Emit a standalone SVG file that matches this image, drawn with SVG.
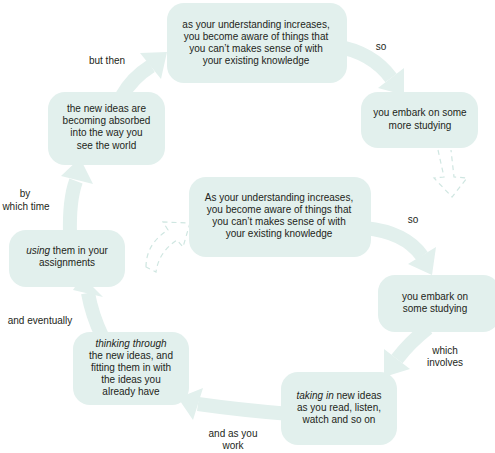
<svg xmlns="http://www.w3.org/2000/svg" width="495" height="453" viewBox="0 0 495 453">
<style>
.node{fill:#e2f0ed}
.shaft{fill:none;stroke:#e2f0ed;stroke-width:14}
.head{fill:#e2f0ed}
.dash{fill:none;stroke:#cfe6e1;stroke-width:1.2;stroke-dasharray:5 4}
text{font-family:"Liberation Sans",Arial,sans-serif;font-size:10px;fill:#231f20;text-anchor:middle}
.i{font-style:italic}
</style>
<rect width="495" height="453" fill="#ffffff"/>
<g id="connectors">
<path class="shaft" d="M122 96 Q132 78 151 66"/>
<polygon class="head" points="140,53 161,79 167,52"/>
<path class="shaft" d="M335 46 Q372 52 391 78"/>
<polygon class="head" points="378,88 404,68 404,95"/>
<path class="shaft" d="M365 228 Q405 232 422 256"/>
<polygon class="head" points="408,264 436,247 432,275"/>
<path class="shaft" d="M428 328 Q410 342 397 359"/>
<polygon class="head" points="384,349 410,369 384,377"/>
<path class="shaft" d="M290 414 Q240 410 198 404"/>
<polygon class="head" points="203,388 193,420 178,398"/>
<path class="shaft" d="M102 336 Q92 315 88 293"/>
<polygon class="head" points="73,290 103,297 82,276"/>
<path class="shaft" d="M70 235 Q69 200 76 181"/>
<polygon class="head" points="61,176 93,184 80,158"/>
<path class="dash" d="M438 150 L444 177 L434 178 L452 197 L467 178 L454 177 L451 150"/>
<path class="dash" d="M146 267 C146 250 155 238 168 230 L163 222 L190 223 L183 247 L177 240 C165 248 158 258 156 272 Z"/>
</g>
<g id="n1"><rect class="node" x="167" y="3" width="180" height="80" rx="17"/>
<text x="256" y="28">as your understanding increases,</text>
<text x="256" y="40">you become aware of things that</text>
<text x="256" y="52">you can’t makes sense of with</text>
<text x="256" y="64">your existing knowledge</text></g>
<g id="n2"><rect class="node" x="361" y="92" width="117" height="56" rx="17"/>
<text x="420" y="116">you embark on some</text>
<text x="420" y="129">more studying</text></g>
<g id="n3"><rect class="node" x="48" y="92" width="117" height="73" rx="17"/>
<text x="106.5" y="112">the new ideas are</text>
<text x="106.5" y="124">becoming absorbed</text>
<text x="106.5" y="136">into the way you</text>
<text x="106.5" y="149">see the world</text></g>
<g id="n4"><rect class="node" x="189" y="177" width="182" height="80" rx="17"/>
<text x="279" y="201">As your understanding increases,</text>
<text x="279" y="213">you become aware of things that</text>
<text x="279" y="225">you can’t makes sense of with</text>
<text x="279" y="237">your existing knowledge</text></g>
<g id="n5"><rect class="node" x="378" y="275" width="122" height="57" rx="17"/>
<text x="435" y="300">you embark on</text>
<text x="435" y="312">some studying</text></g>
<g id="n6"><rect class="node" x="281" y="372" width="116" height="73" rx="17"/>
<text x="339" y="399"><tspan class="i">taking in</tspan> new ideas</text>
<text x="339" y="411">as you read, listen,</text>
<text x="339" y="423">watch and so on</text></g>
<g id="n7"><rect class="node" x="73" y="332" width="116" height="73" rx="17"/>
<text x="131" y="347" class="i">thinking through</text>
<text x="131" y="359">the new ideas, and</text>
<text x="131" y="371">fitting them in with</text>
<text x="131" y="383">the ideas you</text>
<text x="131" y="395">already have</text></g>
<g id="n8"><rect class="node" x="9" y="230" width="116" height="57" rx="17"/>
<text x="67" y="254"><tspan class="i">using</tspan> them in your</text>
<text x="67" y="266">assignments</text></g>
<g id="labels">
<text x="107" y="64">but then</text>
<text x="381" y="50">so</text>
<text x="25" y="197">by</text>
<text x="26" y="210">which time</text>
<text x="413" y="223">so</text>
<text x="40" y="324">and eventually</text>
<text x="445" y="354">which</text>
<text x="445" y="366">involves</text>
<text x="233" y="437">and as you</text>
<text x="233" y="449">work</text>
</g>
</svg>
